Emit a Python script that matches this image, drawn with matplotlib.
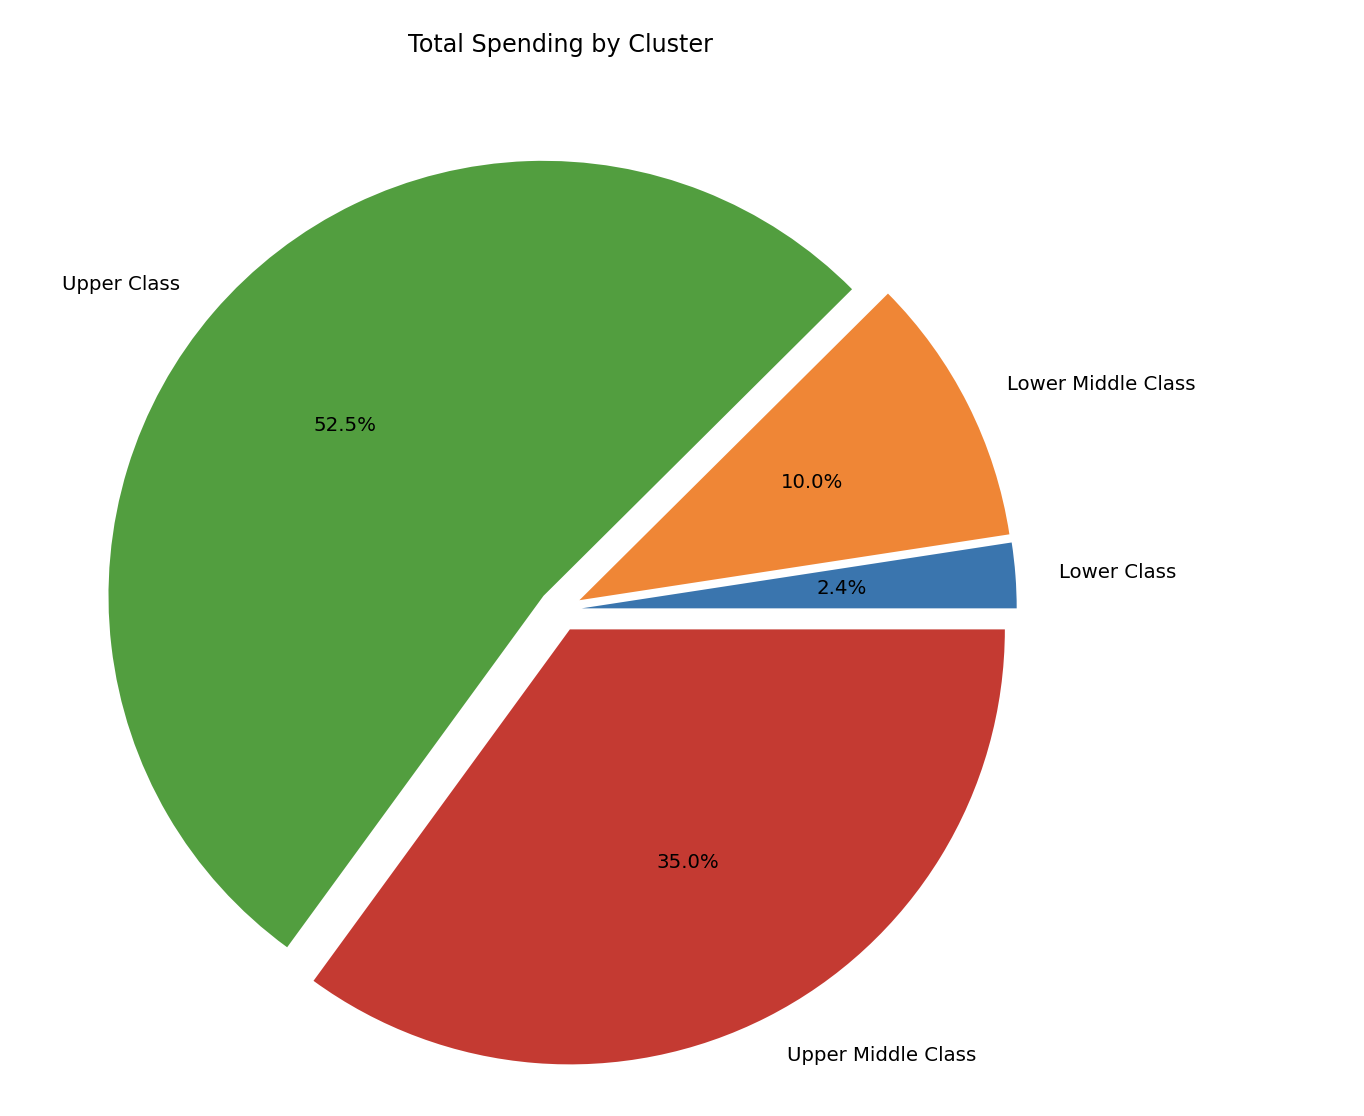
import matplotlib
matplotlib.use("Agg")
import matplotlib.pyplot as plt

# Share of total spending per cluster (in %)
clusters = ['Lower Class', 'Lower Middle Class', 'Upper Class', 'Upper Middle Class']
spending = [2.42, 10.03, 52.52, 35.03]
colors = ['#3a75ae', '#ef8636', '#529e3f', '#c43a32']
explode = [0.05, 0.05, 0.05, 0.05]

W, H = 1364, 1116
fig = plt.figure(figsize=(W / 100, H / 100), dpi=100)
ax = fig.add_axes([0, 0, 1, 1])

ax.pie(spending, labels=clusters, colors=colors, explode=explode,
       autopct='%1.1f%%', textprops={'fontsize': 14.2})

# place pie: centre at (560, 610) px, radius 435 px
cx, cy, r = 560, 610, 435
ax.set_xlim(-cx / r, (W - cx) / r)
ax.set_ylim(-(H - cy) / r, cy / r)
ax.set_aspect('auto')
ax.axis('off')

fig.text(cx / W, 1 - 45 / H, 'Total Spending by Cluster', fontsize=17.2,
         ha='center', va='center')

fig.savefig('out.png', dpi=100, facecolor='white')
